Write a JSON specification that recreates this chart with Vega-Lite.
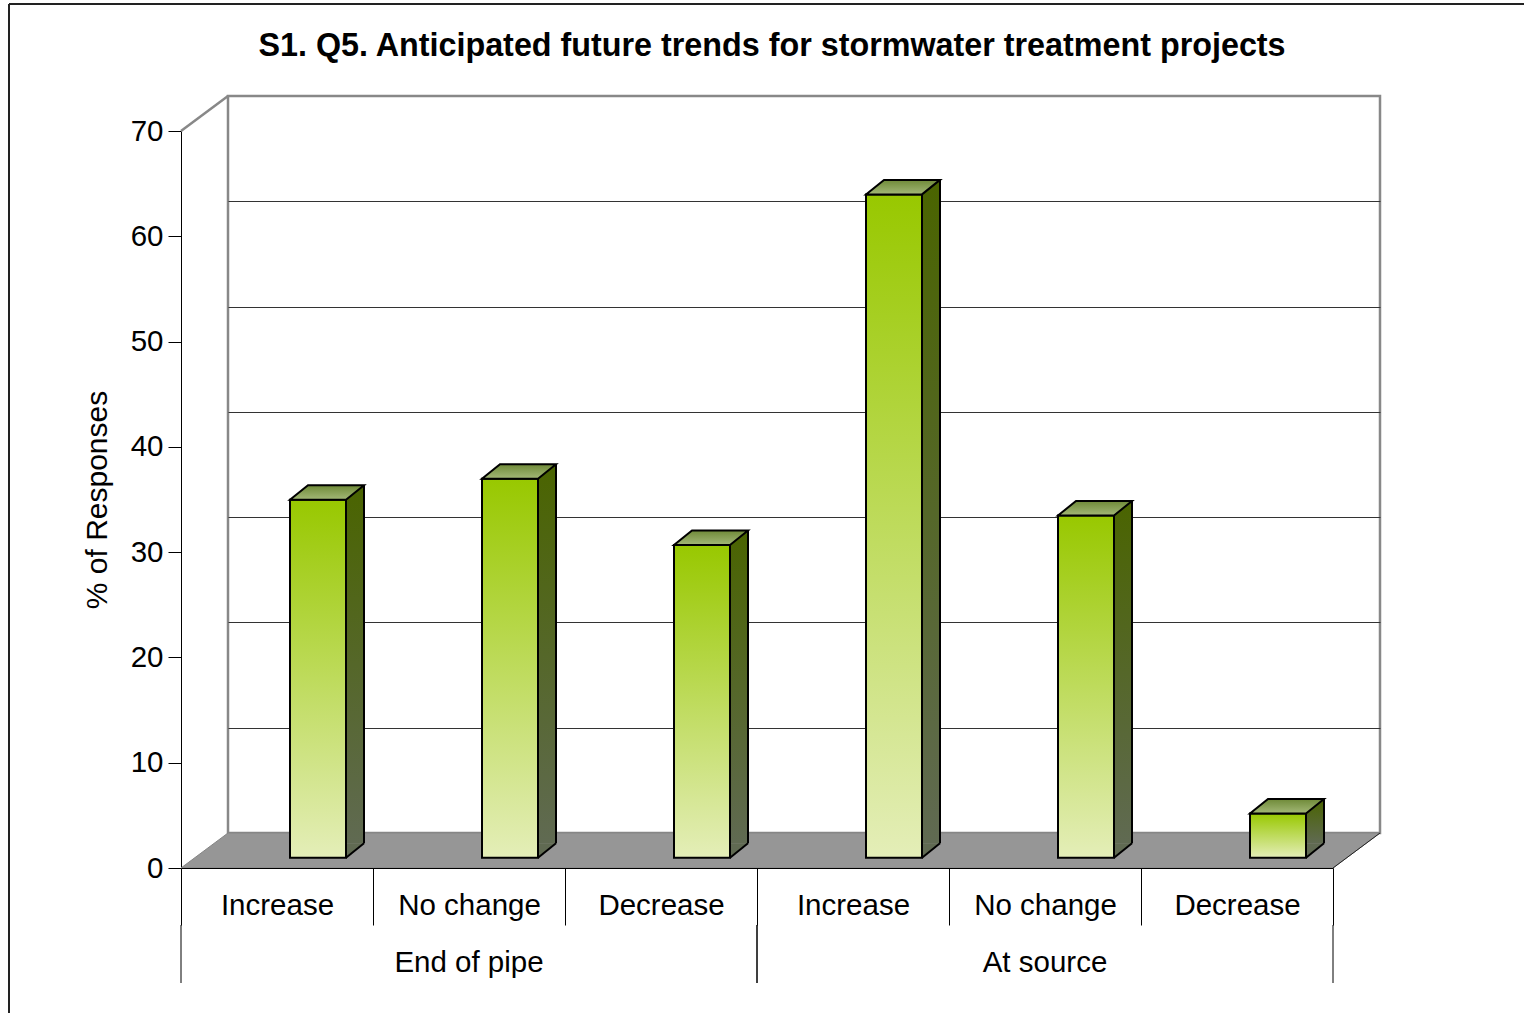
{
  "$schema": "https://vega.github.io/schema/vega-lite/v6.json",
  "width": 1152,
  "height": 737,
  "autosize": {"type": "none"},
  "padding": {"left": 228, "top": 96, "right": 144, "bottom": 180},
  "background": "white",
  "config": {
    "font": "Liberation Sans",
    "view": {"stroke": "#888888", "strokeWidth": 2.5, "fill": "white"}
  },
  "title": {
    "text": "S1. Q5. Anticipated future trends for stormwater treatment projects",
    "fontSize": 32.3,
    "fontWeight": "bold",
    "color": "black",
    "anchor": "middle",
    "frame": "group",
    "dx": -32,
    "baseline": "alphabetic",
    "offset": -85
  },
  "data": {
    "values": [
      {"group": "End of pipe", "trend": "Increase", "value": 34},
      {"group": "End of pipe", "trend": "No change", "value": 36},
      {"group": "End of pipe", "trend": "Decrease", "value": 29.7},
      {"group": "At source", "trend": "Increase", "value": 63},
      {"group": "At source", "trend": "No change", "value": 32.5},
      {"group": "At source", "trend": "Decrease", "value": 4.2}
    ]
  },
  "transform": [{"calculate": "datum.group + '|' + datum.trend", "as": "key"}],
  "encoding": {
    "x": {
      "field": "key",
      "type": "nominal",
      "sort": null,
      "scale": {
        "domain": ["End of pipe|Increase", "End of pipe|No change", "End of pipe|Decrease", "At source|Increase", "At source|No change", "At source|Decrease"],
        "paddingInner": 0,
        "paddingOuter": 0
      },
      "axis": {
        "orient": "bottom",
        "offset": 35,
        "position": -47,
        "title": null,
        "tickBand": "extent",
        "tickSize": 57,
        "tickColor": "black",
        "tickWidth": 1,
        "domainColor": "black",
        "domainWidth": 1,
        "labelAngle": 0,
        "labelFontSize": 29.5,
        "labelColor": "black",
        "labelBaseline": "middle",
        "labelPadding": -20,
        "labelExpr": "isValid(datum.value) ? split(datum.value, '|')[1] : ''",
        "zindex": 1
      }
    }
  },
  "resolve": {"axis": {"y": "independent"}},
  "layer": [
    {
      "data": {"values": [{"d": 1}]},
      "mark": {"type": "point", "shape": "M0,0 L1152,0 L1105,35 L-47,35 Z", "size": 4, "filled": true, "fill": "#969696", "stroke": "#858585", "strokeWidth": 1, "opacity": 1},
      "encoding": {
        "x": {"datum": "End of pipe|Increase", "type": "nominal", "bandPosition": 0},
        "y": {"datum": 0, "type": "quantitative", "axis": null}
      }
    },
    {
      "data": {"values": [{"d": 1}]},
      "mark": {"type": "point", "shape": "M0,0 L-47,35", "size": 4, "filled": false, "stroke": "#222222", "strokeWidth": 1, "opacity": 1},
      "encoding": {
        "x": {"datum": "At source|Decrease", "type": "nominal", "bandPosition": 1},
        "y": {"datum": 0, "type": "quantitative", "axis": null}
      }
    },
    {
      "data": {"values": [{"d": 1}]},
      "mark": {"type": "point", "shape": "M0,0 L-47,35", "size": 4, "filled": false, "stroke": "#888888", "strokeWidth": 2.5, "opacity": 1},
      "encoding": {
        "x": {"datum": "End of pipe|Increase", "type": "nominal", "bandPosition": 0},
        "y": {"datum": 70, "type": "quantitative", "axis": null}
      }
    },
    {
      "mark": {
        "type": "bar", "width": 18, "xOffset": 31, "yOffset": 10.2, "y2Offset": 10.2,
        "color": {"gradient": "linear", "x1": 0, "y1": 0, "x2": 0, "y2": 1, "stops": [{"offset": 0, "color": "#4a6400"}, {"offset": 1, "color": "#606a52"}]}
      },
      "encoding": {
        "y": {
          "field": "value", "type": "quantitative",
          "scale": {"domain": [0, 70], "nice": false, "zero": true},
          "axis": {"orient": "right", "grid": true, "gridColor": "#333333", "gridWidth": 1, "domain": false, "ticks": false, "labels": false, "title": null, "values": [10, 20, 30, 40, 50, 60]}
        }
      }
    },
    {
      "mark": {"type": "point", "shape": "M0,0 L0,-14.5 L18,-14.5 Z", "size": 4, "filled": true, "fill": "#606a52", "strokeWidth": 0, "xOffset": 22, "yOffset": 24.7, "opacity": 1},
      "encoding": {
        "y": {"datum": 0, "type": "quantitative", "axis": null}
      }
    },
    {
      "mark": {"type": "point", "shape": "M0,0 L18,-14.5", "size": 4, "filled": false, "stroke": "black", "strokeWidth": 2, "xOffset": 22, "yOffset": 24.7, "opacity": 1},
      "encoding": {
        "y": {"datum": 0, "type": "quantitative", "axis": null}
      }
    },
    {
      "mark": {"type": "rule", "stroke": "black", "strokeWidth": 2, "xOffset": 40, "yOffset": 10.2, "y2Offset": 10.2},
      "encoding": {
        "y": {"field": "value", "type": "quantitative", "axis": null},
        "y2": {"datum": 0}
      }
    },
    {
      "mark": {
        "type": "bar", "width": 56, "xOffset": -6, "yOffset": 24.7, "y2Offset": 24.7,
        "stroke": "black", "strokeWidth": 2,
        "color": {"gradient": "linear", "x1": 0, "y1": 0, "x2": 0, "y2": 1, "stops": [{"offset": 0, "color": "#98c800"}, {"offset": 1, "color": "#e4eeb8"}]}
      },
      "encoding": {
        "y": {
          "field": "value", "type": "quantitative",
          "axis": {
            "orient": "left", "offset": 47, "position": 35,
            "values": [0, 10, 20, 30, 40, 50, 60, 70],
            "grid": false,
            "domainColor": "black", "domainWidth": 1,
            "tickColor": "black", "tickSize": 13, "tickWidth": 1,
            "labelFontSize": 29.5, "labelColor": "black", "labelPadding": 5,
            "title": "% of Responses", "titleFontSize": 30, "titleFontWeight": "normal", "titleColor": "black", "titlePadding": 18
          }
        }
      }
    },
    {
      "mark": {
        "type": "point", "shape": "M-28,0 L28,0 L46,-14.5 L-10,-14.5 Z", "size": 4, "filled": true,
        "fill": {"gradient": "linear", "x1": 0, "y1": 0, "x2": 0, "y2": 1, "stops": [{"offset": 0, "color": "#6f8a38"}, {"offset": 1, "color": "#a3b877"}]},
        "stroke": "black", "strokeWidth": 2, "xOffset": -6, "yOffset": 24.7, "opacity": 1
      },
      "encoding": {
        "y": {"field": "value", "type": "quantitative", "axis": null}
      }
    },
    {
      "transform": [{"filter": "datum.trend === 'Increase'"}],
      "mark": {"type": "rule", "stroke": "black", "strokeWidth": 1, "xOffset": -47, "yOffset": 92, "y2Offset": 150},
      "encoding": {
        "x": {"field": "key", "type": "nominal", "bandPosition": 0},
        "y": {"datum": 0, "type": "quantitative", "axis": null},
        "y2": {"datum": 0}
      }
    },
    {
      "transform": [{"filter": "datum.trend === 'Decrease'"}],
      "mark": {"type": "rule", "stroke": "black", "strokeWidth": 1, "xOffset": -47, "yOffset": 92, "y2Offset": 150},
      "encoding": {
        "x": {"field": "key", "type": "nominal", "bandPosition": 1},
        "y": {"datum": 0, "type": "quantitative", "axis": null},
        "y2": {"datum": 0}
      }
    },
    {
      "transform": [{"filter": "datum.trend === 'No change'"}],
      "mark": {"type": "text", "fontSize": 29.5, "color": "black", "baseline": "middle", "align": "center", "xOffset": -47, "yOffset": 130},
      "encoding": {
        "y": {"datum": 0, "type": "quantitative", "axis": null},
        "text": {"field": "group", "type": "nominal"}
      }
    },
    {
      "data": {"values": [{"d": 1}]},
      "mark": {"type": "rule", "stroke": "#222222", "strokeWidth": 2, "xOffset": -219, "yOffset": -92, "y2Offset": 180},
      "encoding": {
        "x": {"datum": "End of pipe|Increase", "type": "nominal", "bandPosition": 0},
        "y": {"datum": 70, "type": "quantitative", "axis": null},
        "y2": {"datum": 0}
      }
    },
    {
      "data": {"values": [{"d": 1}]},
      "mark": {"type": "rule", "stroke": "#222222", "strokeWidth": 2, "xOffset": -219, "x2Offset": 400, "yOffset": -92},
      "encoding": {
        "x": {"datum": "End of pipe|Increase", "type": "nominal", "bandPosition": 0},
        "x2": {"datum": "At source|Decrease"},
        "y": {"datum": 70, "type": "quantitative", "axis": null}
      }
    }
  ]
}
